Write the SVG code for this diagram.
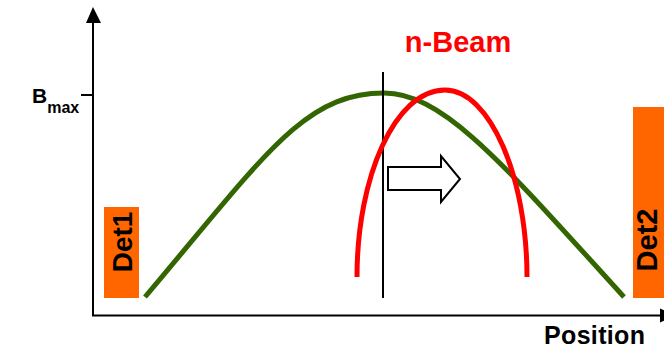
<svg xmlns="http://www.w3.org/2000/svg" width="664" height="348" viewBox="0 0 664 348">
<style>
.lbl{font-family:"Liberation Sans",Arial,sans-serif;font-weight:bold;fill:#000}
.det{fill:#ff6600}
.axis{stroke:#000;stroke-width:2;fill:none}
</style>
<rect width="664" height="348" fill="#fff"/>
<g id="axes">
<line class="axis" x1="93" y1="20" x2="93" y2="316"/>
<polygon points="93,7 86,23 101,23" fill="#000"/>
<line class="axis" x1="92" y1="315.5" x2="662" y2="315.5"/>
<polygon points="676,315.5 660,308.5 660,322.5" fill="#000"/>
<line class="axis" x1="81" y1="95" x2="93" y2="95"/>
<text class="lbl" x="544" y="344" font-size="25" textLength="101">Position</text>
<text class="lbl" x="32" y="103" font-size="21">B<tspan font-size="16" dy="10">max</tspan></text>
</g>
<g id="det1">
<rect class="det" x="104" y="207" width="35" height="91"/>
<text class="lbl" font-size="28" text-anchor="middle" transform="translate(132,242) rotate(-90)">Det1</text>
</g>
<g id="det2">
<rect class="det" x="633" y="107" width="40" height="191"/>
<text class="lbl" font-size="29" text-anchor="middle" transform="translate(657,240) rotate(-90)">Det2</text>
</g>
<g id="field">
<path d="M145,297 C265,155 304,93 384,93 C444,93 504,165 624,297" fill="none" stroke="#336600" stroke-width="5"/>
</g>
<g id="center">
<line x1="383" y1="72" x2="383" y2="298" stroke="#000" stroke-width="2"/>
</g>
<g id="beam">
<path d="M357,277 C357,177 395,90 445,90 C490,90 527,177 527,277" fill="none" stroke="#ff0000" stroke-width="5"/>
<text x="458" y="52" font-family="Liberation Sans,Arial,sans-serif" font-weight="bold" font-size="29" fill="#ff0000" text-anchor="middle">n-Beam</text>
</g>
<g id="shift">
<polygon points="388,167 441,167 441,156 460,179 441,202 441,190 388,190" fill="#fff" stroke="#000" stroke-width="2"/>
</g>
</svg>
